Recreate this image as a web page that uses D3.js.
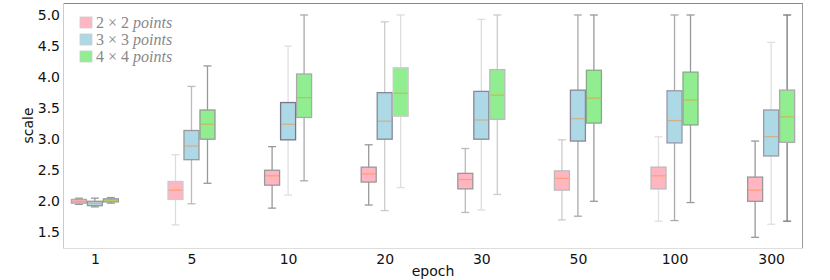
<!DOCTYPE html>
<html>
<head>
<meta charset="utf-8">
<script src="https://cdn.jsdelivr.net/npm/d3@7"></script>
<style>
  body { margin: 0; background: #fff; }
  .tick text { font-family: "DejaVu Sans", sans-serif; font-size: 14px; fill: #111; }
  .axis-title { font-family: "DejaVu Sans", sans-serif; font-size: 14px; fill: #111; }
  .legend-text { font-family: "Liberation Serif", serif; font-size: 16px; fill: #888; }
</style>
</head>
<body>
<script>
// categories on the x axis
var epochs = ["1", "5", "10", "20", "30", "50", "100", "300"];
var seriesNames = ["2 \u00d7 2", "3 \u00d7 3", "4 \u00d7 4"];

// box stats per epoch: [low whisker, q1, median, q3, high whisker]
var points2 = [
  [1.95, 1.97, 2.00, 2.03, 2.05],
  [1.62, 2.03, 2.18, 2.32, 2.75],
  [1.89, 2.26, 2.41, 2.50, 2.88],
  [1.94, 2.31, 2.44, 2.55, 2.91],
  [1.82, 2.20, 2.35, 2.45, 2.85],
  [1.70, 2.18, 2.37, 2.49, 2.99],
  [1.68, 2.20, 2.41, 2.55, 3.04],
  [1.42, 2.00, 2.18, 2.39, 2.97]
];
var points3 = [
  [1.91, 1.93, 1.97, 2.00, 2.05],
  [1.96, 2.67, 2.89, 3.14, 3.85],
  [2.10, 2.99, 3.24, 3.59, 4.50],
  [1.85, 3.00, 3.29, 3.75, 4.89],
  [1.86, 3.00, 3.31, 3.77, 4.93],
  [1.76, 2.97, 3.33, 3.79, 5.00],
  [1.69, 2.94, 3.30, 3.78, 5.00],
  [1.63, 2.73, 3.04, 3.47, 4.56]
];
var points4 = [
  [1.97, 1.99, 2.02, 2.04, 2.06],
  [2.29, 3.00, 3.24, 3.47, 4.18],
  [2.33, 3.35, 3.67, 4.05, 5.00],
  [2.22, 3.37, 3.74, 4.15, 5.00],
  [2.11, 3.32, 3.71, 4.12, 5.00],
  [2.00, 3.26, 3.66, 4.11, 5.00],
  [1.98, 3.23, 3.63, 4.08, 5.00],
  [1.68, 2.95, 3.36, 3.79, 5.00]
];
var yTicks = [1.5, 2.0, 2.5, 3.0, 3.5, 4.0, 4.5, 5.0];

// styles: fill per series, and grey level of each box's outline / whiskers
var fills = ["#ffb6c1", "#add8e6", "#90ee90"];
var lineGrey = [
  ["#999", "#999", "#999"],
  ["#ddd", "#bbb", "#999"],
  ["#999", "#e0e0e0", "#aaa"],
  ["#999", "#ccc", "#ddd"],
  ["#bbb", "#ddd", "#ccc"],
  ["#ccc", "#aaa", "#999"],
  ["#e0e0e0", "#aaa", "#999"],
  ["#999", "#e0e0e0", "#777"]
];
var boxEdge = [
  ["#aaa", "#999", "#999"],
  ["#ccc", "#999", "#999"],
  ["#999", "#778", "#aaa"],
  ["#999", "#889", "#ccc"],
  ["#999", "#889", "#bbb"],
  ["#bbb", "#889", "#8a8"],
  ["#bbb", "#99a", "#8a8"],
  ["#999", "#99a", "#aaa"]
];

var svg_width = 830;
var svg_height = 280;
var plotLeft = 63, plotRight = 803, plotTop = 3, plotBottom = 248;

var svg = d3.select("body").append("svg")
  .attr("width", svg_width)
  .attr("height", svg_height);

var xScale = d3.scalePoint()
  .domain(epochs)
  .range([plotLeft, plotRight])
  .padding(0.33);

var yScale = d3.scaleLinear()
  .domain([1.248, 5.193])
  .range([plotBottom, plotTop]);

var boxW = 15, offset = 16, capW = 8;

// axes (no tick marks, matplotlib-like)
var xaxis = d3.axisBottom(xScale).tickSize(0).tickPadding(6);
var yaxis = d3.axisLeft(yScale).tickValues(yTicks).tickFormat(d3.format(".1f")).tickSize(0).tickPadding(3);

svg.append("g")
  .attr("transform", "translate(0," + plotBottom + ")")
  .call(xaxis)
  .call(g => g.select(".domain").remove());

svg.append("g")
  .attr("transform", "translate(" + plotLeft + ",0)")
  .call(yaxis)
  .call(g => g.select(".domain").remove());

// spines
svg.append("line").attr("x1", plotLeft).attr("x2", plotRight).attr("y1", plotTop + 0.5).attr("y2", plotTop + 0.5).attr("stroke", "#888");
svg.append("line").attr("x1", plotRight - 0.5).attr("x2", plotRight - 0.5).attr("y1", plotTop).attr("y2", plotBottom).attr("stroke", "#999");
svg.append("line").attr("x1", plotLeft + 0.5).attr("x2", plotLeft + 0.5).attr("y1", plotTop).attr("y2", plotBottom).attr("stroke", "#ccc");
svg.append("line").attr("x1", plotLeft).attr("x2", plotRight).attr("y1", plotBottom + 0.5).attr("y2", plotBottom + 0.5).attr("stroke", "#ddd");

var allSeries = [points2, points3, points4];

allSeries.forEach(function(series, s) {
  var g = svg.append("g").attr("class", "series-" + s);
  var items = series.map(function(st, i) { return { epoch: epochs[i], st: st, i: i }; });
  var cx = d => xScale(d.epoch) + (s - 1) * offset;

  // whisker stems
  g.selectAll(".whisker").data(items).enter().append("line")
    .attr("x1", cx).attr("x2", cx)
    .attr("y1", d => yScale(d.st[0])).attr("y2", d => yScale(d.st[4]))
    .attr("stroke", d => lineGrey[d.i][s]).attr("stroke-width", 1.3);

  // caps
  [0, 4].forEach(function(k) {
    g.selectAll(".cap" + k).data(items).enter().append("line")
      .attr("x1", d => cx(d) - capW / 2).attr("x2", d => cx(d) + capW / 2)
      .attr("y1", d => yScale(d.st[k])).attr("y2", d => yScale(d.st[k]))
      .attr("stroke", d => lineGrey[d.i][s]).attr("stroke-width", 1.3);
  });

  // boxes
  g.selectAll(".box").data(items).enter().append("rect")
    .attr("x", d => cx(d) - boxW / 2)
    .attr("width", boxW)
    .attr("y", d => yScale(d.st[3]))
    .attr("height", d => yScale(d.st[1]) - yScale(d.st[3]))
    .attr("fill", fills[s])
    .attr("stroke", d => boxEdge[d.i][s])
    .attr("stroke-width", 1.3);

  // medians
  g.selectAll(".median").data(items).enter().append("line")
    .attr("x1", d => cx(d) - boxW / 2 + 0.7).attr("x2", d => cx(d) + boxW / 2 - 0.7)
    .attr("y1", d => yScale(d.st[2])).attr("y2", d => yScale(d.st[2]))
    .attr("stroke", "#ff7f0e").attr("stroke-opacity", 0.45).attr("stroke-width", 1.2);
});

// legend
var legend = svg.append("g").attr("transform", "translate(80,17)");
seriesNames.forEach(function(name, i) {
  legend.append("rect")
    .attr("x", 0).attr("y", i * 17)
    .attr("width", 12).attr("height", 11)
    .attr("fill", fills[i])
    .attr("stroke", "#ccc").attr("stroke-width", 0.8);
  var t = legend.append("text")
    .attr("class", "legend-text")
    .attr("x", 16).attr("y", i * 17 + 11);
  t.append("tspan").text(name + " ");
  t.append("tspan").attr("font-style", "italic").text("points");
});

// axis titles
svg.append("text")
  .attr("class", "axis-title")
  .attr("text-anchor", "middle")
  .attr("x", (plotLeft + plotRight) / 2)
  .attr("y", 276)
  .text("epoch");

svg.append("text")
  .attr("class", "axis-title")
  .attr("text-anchor", "middle")
  .attr("transform", "translate(33," + ((plotTop + plotBottom) / 2) + ") rotate(-90)")
  .text("scale");
</script>
</body>
</html>
